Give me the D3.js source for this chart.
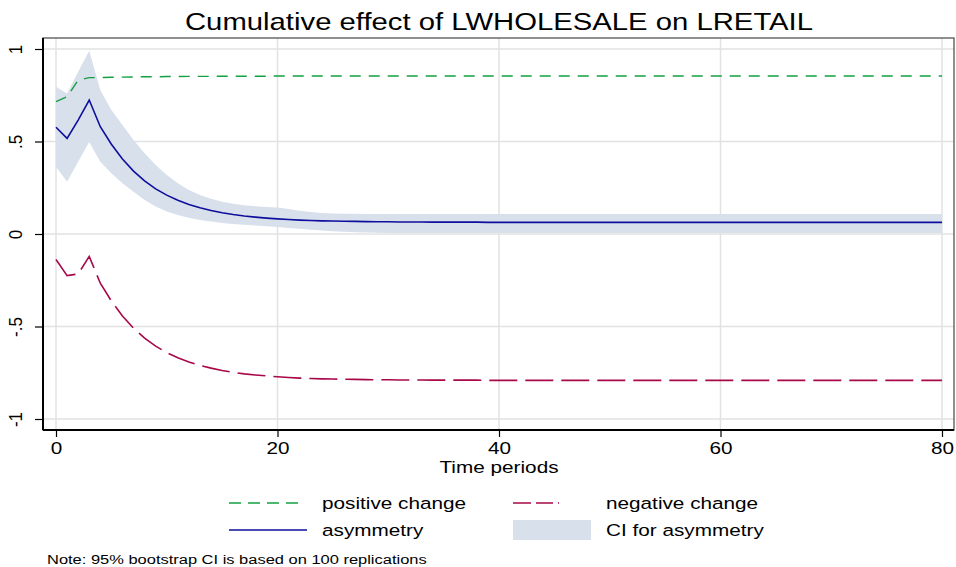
<!DOCTYPE html>
<html><head><meta charset="utf-8">
<script src="https://cdn.jsdelivr.net/npm/d3@7"></script>
<style>body{margin:0;background:#fff}svg{display:block}text{font-family:"Liberation Sans",Arial,sans-serif;fill:#000}</style>
</head><body>
<svg id="c" width="956" height="567"></svg>
<script>
const titleText = "Cumulative effect of LWHOLESALE on LRETAIL";
const xTitle = "Time periods";
const noteText = "Note: 95% bootstrap CI is based on 100 replications";
const xTicks = [0, 20, 40, 60, 80];
const yTicks = [-1, -0.5, 0, 0.5, 1];
const yTickLabels = ["-1", "-.5", "0", ".5", "1"];
const legendLabels = ["positive change", "negative change", "asymmetry", "CI for asymmetry"];

const periods = d3.range(0, 81);
const tail = (v, n) => Array(n).fill(v);
const positive = [0.715,0.742,0.832,0.845,0.846,0.847,0.848,0.849,0.850,0.850,
  0.851,0.851,0.852,0.852,0.852,0.853,0.853,0.853,0.853,0.853].concat(tail(0.854, 61));
const asymmetry = [0.577,0.517,0.616,0.724,0.580,0.485,0.405,0.340,0.287,0.244,
  0.210,0.182,0.160,0.142,0.127,0.115,0.105,0.097,0.091,0.086,
  0.082,0.078,0.075,0.073,0.071,0.070,0.069,0.068,0.067,0.066,
  0.066,0.065,0.065,0.065,0.064,0.064,0.064,0.064,0.064,0.063].concat(tail(0.063, 41));
const negative = [-0.138,-0.225,-0.216,-0.121,-0.266,-0.362,-0.443,-0.509,-0.563,-0.606,
  -0.641,-0.669,-0.692,-0.710,-0.725,-0.738,-0.748,-0.756,-0.762,-0.767,
  -0.772,-0.776,-0.779,-0.781,-0.783,-0.784,-0.785,-0.786,-0.787,-0.788,
  -0.788,-0.789,-0.789,-0.789,-0.790,-0.790,-0.790,-0.790,-0.790,-0.791].concat(tail(-0.791, 41));
const ciUpper = [0.796,0.760,0.877,0.990,0.778,0.670,0.589,0.508,0.436,0.373,
  0.319,0.274,0.238,0.211,0.191,0.175,0.164,0.155,0.150,0.146,
  0.143,0.135,0.126,0.119,0.114,0.111,0.110,0.109,0.108,0.108].concat(tail(0.108, 51));
const ciLower = [0.364,0.283,0.390,0.497,0.391,0.328,0.274,0.229,0.184,0.148,
  0.121,0.103,0.088,0.076,0.067,0.059,0.054,0.050,0.046,0.042,
  0.038,0.033,0.028,0.023,0.019,0.015,0.012,0.010,0.008,0.007].concat(tail(0.005, 51));

const C = {pos:"#14a040", neg:"#a8084a", asym:"#0e0e9c", band:"#d8e0ec", grid:"#e2e2e2"};
const SX = 1.22;

const svg = d3.select("#c");
const box = {l:43, t:38, r:954, b:430};
const x = d3.scaleLinear().domain([0, 80]).range([56, 942]);
const y = d3.scaleLinear().domain([-1, 1]).range([419, 49]);

function stext(parent, tx, ty, str, size, anchor) {
  return parent.append("g").attr("transform", `translate(${tx},${ty}) scale(${SX},1)`)
    .append("text").attr("font-size", size).attr("text-anchor", anchor || "start").text(str);
}

// gridlines
svg.append("g").selectAll("line").data(yTicks).join("line")
  .attr("x1", box.l).attr("x2", box.r).attr("y1", d => y(d)).attr("y2", d => y(d))
  .attr("stroke", C.grid).attr("stroke-width", 1.5);
svg.append("g").selectAll("line").data(xTicks).join("line")
  .attr("y1", box.t).attr("y2", box.b).attr("x1", d => x(d)).attr("x2", d => x(d))
  .attr("stroke", C.grid).attr("stroke-width", 1.5);

// band
svg.append("path").datum(periods)
  .attr("d", d3.area().x(i => x(i)).y0(i => y(ciLower[i])).y1(i => y(ciUpper[i])))
  .attr("fill", C.band);

const line = arr => d3.line().x(i => x(i)).y(i => y(arr[i]));
svg.append("path").datum(periods).attr("d", line(positive)).attr("fill","none")
  .attr("stroke", C.pos).attr("stroke-width", 1.4).attr("stroke-dasharray", "11,8");
svg.append("path").datum(periods).attr("d", line(negative)).attr("fill","none")
  .attr("stroke", C.neg).attr("stroke-width", 1.6).attr("stroke-dasharray", "28,8");
svg.append("path").datum(periods).attr("d", line(asymmetry)).attr("fill","none")
  .attr("stroke", C.asym).attr("stroke-width", 1.6);

// frame
svg.append("rect").attr("x", box.l).attr("y", box.t).attr("width", box.r - box.l).attr("height", box.b - box.t)
  .attr("fill", "none").attr("stroke", "#555").attr("stroke-width", 1.3);

// axes
const yAxis = svg.append("g").attr("transform", `translate(${box.l},0)`)
  .call(d3.axisLeft(y).tickValues(yTicks).tickSize(8).tickFormat((d, i) => yTickLabels[i]));
yAxis.select(".domain").attr("d", `M0,${box.t}V${box.b}`).attr("stroke", "#000").attr("stroke-width", 2);
yAxis.selectAll(".tick line").attr("stroke", "#000").attr("stroke-width", 1.2);
yAxis.selectAll(".tick text").attr("font-size", 17).attr("font-family", "Liberation Sans, Arial, sans-serif")
  .attr("x", 0).attr("dy", 0).attr("text-anchor", "middle")
  .attr("transform", "translate(-27,0) scale(1.12,1) rotate(-90)").attr("dominant-baseline", "central");

const xAxis = svg.append("g").attr("transform", `translate(0,${box.b})`)
  .call(d3.axisBottom(x).tickValues(xTicks).tickSize(7).tickFormat(d3.format("d")));
xAxis.select(".domain").attr("d", `M${box.l},0H${box.r}`).attr("stroke", "#000").attr("stroke-width", 2);
xAxis.selectAll(".tick line").attr("stroke", "#000").attr("stroke-width", 1.2);
xAxis.selectAll(".tick text").attr("font-size", 17).attr("font-family", "Liberation Sans, Arial, sans-serif")
  .attr("y", 12).attr("dy", "0.71em").attr("transform", `scale(${SX},1)`)
  .attr("x", 0);
xAxis.selectAll(".tick text").attr("transform", null).each(function() {
  const t = d3.select(this);
  t.attr("transform", `scale(${SX},1)`);
});

// titles
stext(svg, 499, 30, titleText, 24, "middle");
stext(svg, 499, 473, xTitle, 17, "middle");

// legend
const lg = svg.append("g");
const r1 = 503, r2 = 530;
lg.append("line").attr("x1", 229).attr("x2", 300).attr("y1", r1).attr("y2", r1)
  .attr("stroke", C.pos).attr("stroke-width", 1.4).attr("stroke-dasharray", "12,7");
stext(lg, 322, r1 + 6, legendLabels[0], 17);
lg.append("line").attr("x1", 513).attr("x2", 591).attr("y1", r1).attr("y2", r1)
  .attr("stroke", C.neg).attr("stroke-width", 1.6).attr("stroke-dasharray", "18,5,17,5,1,40");
stext(lg, 606, r1 + 6, legendLabels[1], 17);
lg.append("line").attr("x1", 229).attr("x2", 307).attr("y1", r2).attr("y2", r2)
  .attr("stroke", C.asym).attr("stroke-width", 1.6);
stext(lg, 322, r2 + 6, legendLabels[2], 17);
lg.append("rect").attr("x", 513).attr("y", 520).attr("width", 78).attr("height", 20).attr("fill", C.band);
stext(lg, 606, r2 + 6, legendLabels[3], 17);

stext(svg, 47, 564, noteText, 13.5);
</script>
</body></html>
